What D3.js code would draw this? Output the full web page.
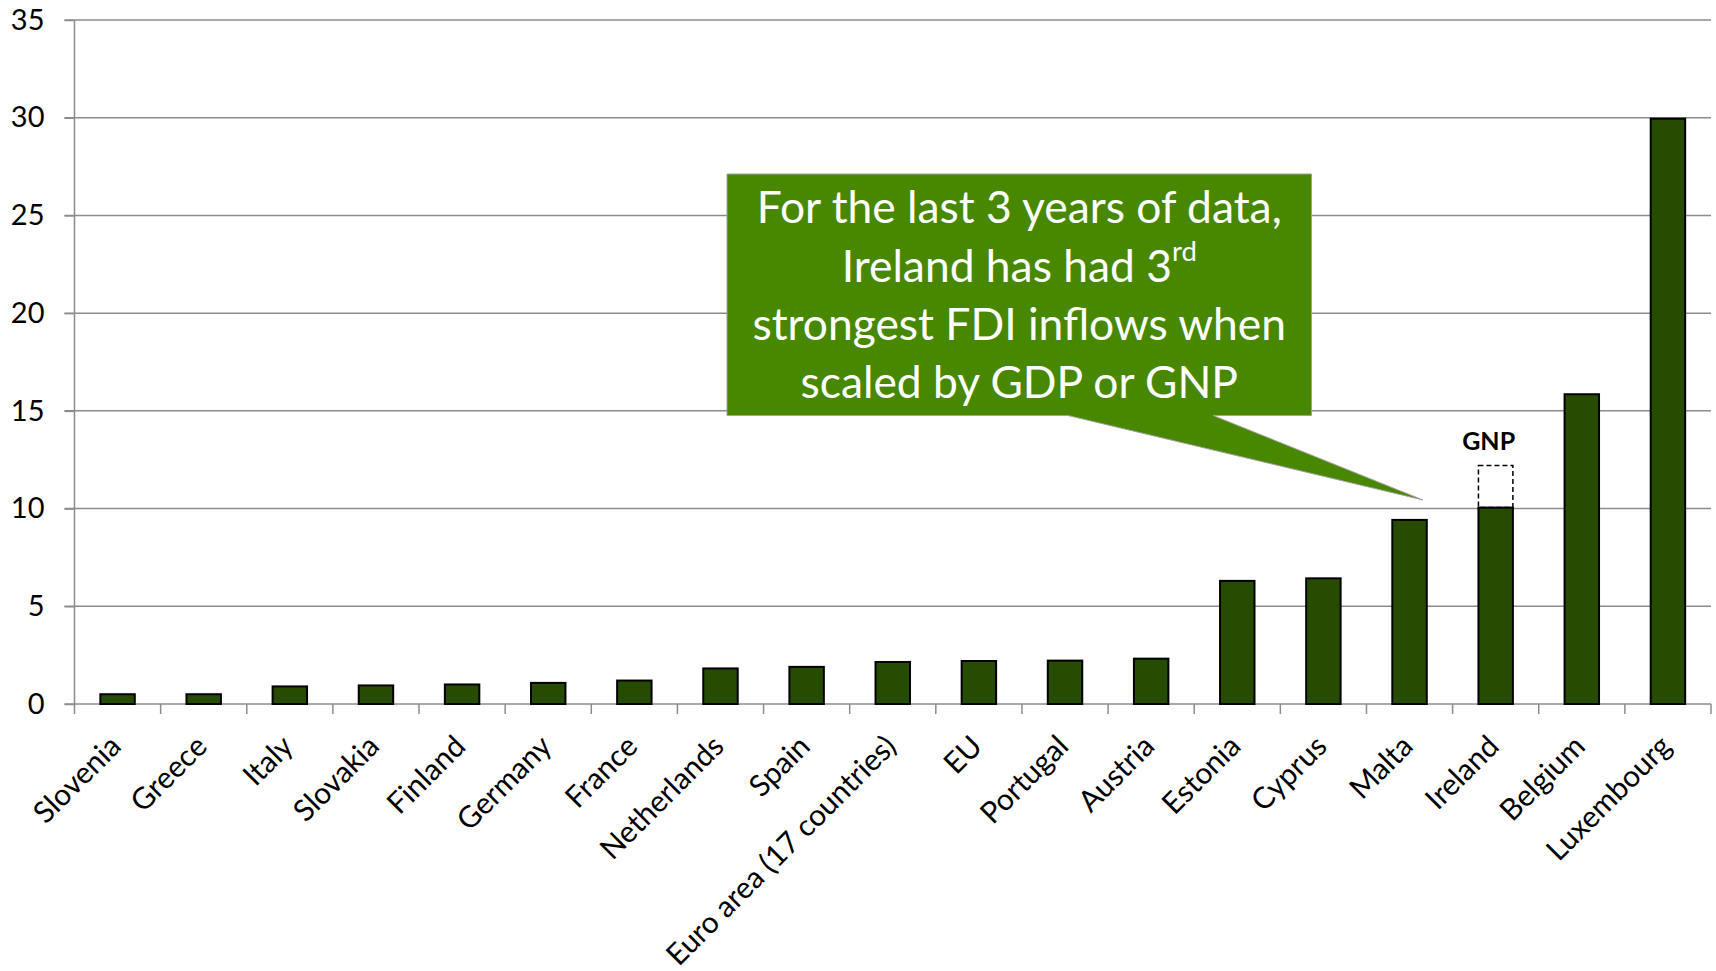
<!DOCTYPE html>
<html>
<head>
<meta charset="utf-8">
<script src="https://cdn.jsdelivr.net/npm/d3@7"></script>
<style>
  html, body { margin: 0; padding: 0; background: #ffffff; }
  svg { display: block; }
</style>
</head>
<body>
<svg id="chart" width="1716" height="971"></svg>
<script>
// ---- data ----
const categories = ["Slovenia", "Greece", "Italy", "Slovakia", "Finland", "Germany", "France",
  "Netherlands", "Spain", "Euro area (17 countries)", "EU", "Portugal", "Austria", "Estonia",
  "Cyprus", "Malta", "Ireland", "Belgium", "Luxembourg"];
const gdpValues = [0.5, 0.5, 0.9, 0.95, 1.0, 1.08, 1.2, 1.82, 1.9, 2.15, 2.2, 2.22, 2.32,
  6.3, 6.43, 9.42, 10.05, 15.85, 29.95];
const gnpCategory = "Ireland";
const gnpValue = 12.2;
const yTicks = [0, 5, 10, 15, 20, 25, 30, 35];
const calloutLines = ["For the last 3 years of data,", "Ireland has had 3", "strongest FDI inflows when", "scaled by GDP or GNP"];
const calloutSup = "rd";

(function () {
// ---- layout ----
const svg = d3.select("#chart");
const FONT = "Lato, 'Open Sans', sans-serif";
const pLeft = 74.5, pRight = 1711, pTop = 20, pBottom = 704;
const gridColor = "#8c8c8c";

const x = d3.scaleBand().domain(categories).range([pLeft, pRight]).paddingInner(0.6).paddingOuter(0.3);
const y = d3.scaleLinear().domain([0, 35]).range([pBottom, pTop]);

// gridlines
svg.append("g").selectAll("line").data(yTicks.filter(d => d > 0)).join("line")
  .attr("x1", pLeft - 10).attr("x2", pRight)
  .attr("y1", d => y(d)).attr("y2", d => y(d))
  .attr("stroke", gridColor).attr("stroke-width", 1.5);

// y axis
const yAxis = svg.append("g").attr("transform", `translate(${pLeft},0)`)
  .call(d3.axisLeft(y).tickValues(yTicks).tickSize(10).tickPadding(20).tickFormat(d3.format("d")));
yAxis.select(".domain").remove();
yAxis.selectAll(".tick line").attr("stroke", gridColor).attr("stroke-width", 1.5);
yAxis.selectAll(".tick text").attr("font-family", FONT).attr("font-size", 29).attr("fill", "#000");
svg.append("line").attr("x1", pLeft).attr("x2", pLeft).attr("y1", pTop).attr("y2", pBottom + 10)
  .attr("stroke", gridColor).attr("stroke-width", 1.5);

// x axis baseline and boundary ticks
svg.append("line").attr("x1", pLeft - 10).attr("x2", pRight).attr("y1", pBottom).attr("y2", pBottom)
  .attr("stroke", gridColor).attr("stroke-width", 1.5);
const step = x.step();
svg.append("g").selectAll("line").data(d3.range(1, categories.length + 1)).join("line")
  .attr("x1", i => pLeft + i * step).attr("x2", i => pLeft + i * step)
  .attr("y1", pBottom).attr("y2", pBottom + 10)
  .attr("stroke", gridColor).attr("stroke-width", 1.5);

// bars
svg.append("g").selectAll("rect").data(categories).join("rect")
  .attr("x", d => x(d)).attr("width", x.bandwidth())
  .attr("y", (d, i) => y(gdpValues[i]))
  .attr("height", (d, i) => pBottom - y(gdpValues[i]))
  .attr("fill", "#264c02").attr("stroke", "#000").attr("stroke-width", 2);

// GNP dashed extension
const irelandValue = gdpValues[categories.indexOf(gnpCategory)];
svg.append("rect")
  .attr("x", x(gnpCategory)).attr("width", x.bandwidth())
  .attr("y", y(gnpValue)).attr("height", y(irelandValue) - y(gnpValue))
  .attr("fill", "none").attr("stroke", "#000").attr("stroke-width", 1.5)
  .attr("stroke-dasharray", "5,3");
svg.append("text")
  .attr("x", x(gnpCategory) + x.bandwidth() / 2 - 7).attr("y", y(gnpValue) - 16)
  .attr("text-anchor", "middle").attr("font-family", FONT).attr("font-weight", "bold")
  .attr("font-size", 25).attr("fill", "#000").text("GNP");

// category labels
const labels = svg.append("g").selectAll("text").data(categories).join("text")
  .attr("transform", d => `translate(${x(d) + x.bandwidth() / 2 - 3},${pBottom + 36}) rotate(-45)`)
  .attr("text-anchor", "end").attr("dominant-baseline", "central")
  .attr("font-family", FONT).attr("fill", "#000").attr("font-size", 30).text(d => d);
const longest = labels.filter(d => d === categories[9]).node();
const lw = longest.getComputedTextLength();
labels.attr("font-size", 30 * 310 / lw);

// callout
const boxL = 727, boxR = 1311.5, boxT = 174, boxB = 415.5;
const maltaIdx = categories.indexOf("Malta");
const tipX = x("Malta") + x.bandwidth() - 4;
const tipY = y(gdpValues[maltaIdx]) - 20;
const callout = d3.path();
callout.moveTo(boxL, boxT);
callout.lineTo(boxR, boxT);
callout.lineTo(boxR, boxB);
callout.lineTo(1213, boxB);
callout.lineTo(tipX, tipY);
callout.lineTo(1068, boxB);
callout.lineTo(boxL, boxB);
callout.closePath();
svg.append("path").attr("d", callout.toString())
  .attr("fill", "#478800").attr("stroke", "#a0a0a0").attr("stroke-width", 1);

const cx = (boxL + boxR) / 2;
const baselines = [223, 281.5, 340, 397.5];
const ctext = svg.append("g").selectAll("text").data(calloutLines).join("text")
  .attr("x", cx).attr("y", (d, i) => baselines[i])
  .attr("text-anchor", "middle").attr("font-family", FONT).attr("fill", "#fff")
  .attr("font-size", 40);
ctext.each(function (d, i) {
  const t = d3.select(this);
  t.append("tspan").text(d);
  if (i === 1) {
    t.append("tspan").attr("font-size", "0.62em").attr("dy", "-0.75em").text(calloutSup);
  }
});
const l1 = ctext.filter((d, i) => i === 0).node().getComputedTextLength();
ctext.attr("font-size", 40 * 525 / l1);
})();
</script>
</body>
</html>
